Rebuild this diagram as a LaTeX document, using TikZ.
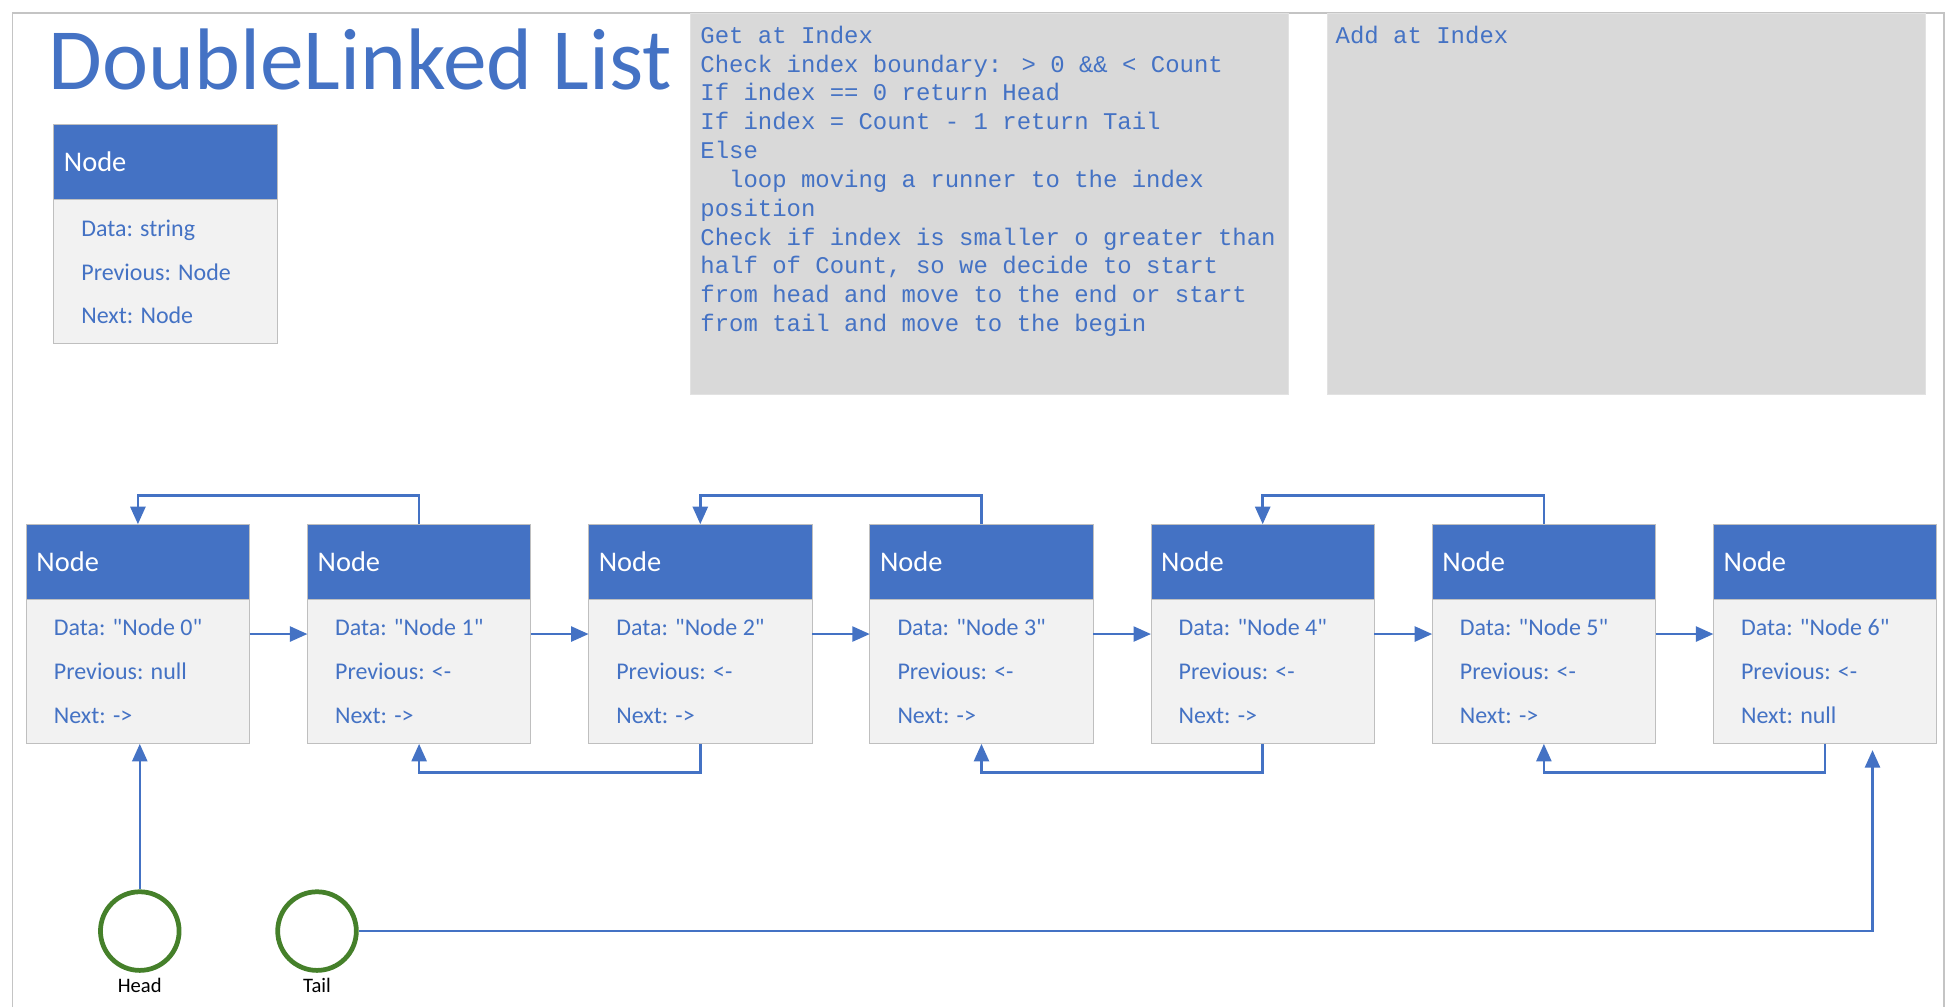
\documentclass[tikz,border=0pt]{standalone}
\usepackage{fontspec}
\setmainfont{Carlito}[Ligatures=TeXOff]
\newfontfamily\codefont{Liberation Mono}[Ligatures=TeXOff]
\usetikzlibrary{arrows.meta,calc}
\definecolor{hdrblue}{HTML}{4472C4}
\definecolor{bodygray}{HTML}{F2F2F2}
\definecolor{edgegray}{HTML}{BFBFBF}
\definecolor{codegray}{HTML}{D9D9D9}
\definecolor{codeedge}{HTML}{E2E2E2}
\definecolor{framegray}{HTML}{C4C4C4}
\definecolor{ringgreen}{HTML}{45802A}
\newcommand\dllbox[7]{%
  \node[hdrbox] (#1h) at (#2,#3) {};
  \node[hdrtext] (#1t) at ($(#1h.west)+(8,7.5)$) {Node};
  \node[bodybox, minimum height=#4] (#1) at (#2,#3+60) {};
  \node[bodytext] (#1a) at ($(#1.north west)+(22,29.5)$) {#5};
  \node[bodytext] (#1b) at ($(#1.north west)+(22,64.5)$) {#6};
  \node[bodytext] (#1c) at ($(#1.north west)+(22,99.5)$) {#7};
}
\begin{document}
\begin{tikzpicture}[x=1pt,y=-1pt,
  hdrbox/.style={draw=edgegray, fill=hdrblue, line width=0.8pt, minimum width=179pt, minimum height=60pt, anchor=north west, inner sep=0pt, outer sep=0pt},
  bodybox/.style={draw=edgegray, fill=bodygray, line width=0.8pt, minimum width=179pt, anchor=north west, inner sep=0pt, outer sep=0pt},
  hdrtext/.style={text=white, font=\fontsize{22.8}{27}\selectfont, inner sep=0pt, anchor=base west},
  bodytext/.style={text=hdrblue, font=\fontsize{19.2}{23}\selectfont, inner sep=0pt, anchor=base west},
  codebox/.style={fill=codegray, draw=codeedge, line width=0.6pt, minimum width=479pt, minimum height=305pt, anchor=north west, inner sep=0pt},
  codetext/.style={text=hdrblue, font=\codefont\fontsize{19.2}{23}\selectfont, inner sep=0pt, anchor=base west},
  conn/.style={draw=hdrblue, line width=2pt, -{Triangle[length=14pt,width=12pt]}},
  ring/.style={circle, draw=ringgreen, line width=3.8pt, minimum size=63pt, inner sep=0pt},
  lbl/.style={font=\fontsize{16.5}{20}\selectfont, text=black, inner sep=0pt, anchor=base},
  titletext/.style={text=hdrblue, font=\fontsize{70}{80}\selectfont, inner sep=0pt, anchor=base west}
]
\useasboundingbox (0,0) rectangle (1568,807);
\fill[white] (0,0) rectangle (1568,807);
% outer frame
\draw[framegray, line width=1pt] (10,807) -- (10,10.5) -- (1557.5,10.5) -- (1557.5,807);

% title
\node[titletext] (title) at (39,72) {DoubleLinked List};

% legend node
\dllbox{leg}{43}{100}{115}{Data: string}{Previous: Node}{Next: Node}

% code boxes
\node[codebox] (getbox) at (553,10.5) {};
\node[codebox] (addbox) at (1063,10.5) {};
\node[codetext] (g0) at (561,34.7) {Get at Index};
\node[codetext] (g1) at (561,57.8) {Check index boundary: > 0 \&\& < Count};
\node[codetext] (g2) at (561,80.9) {If index == 0 return Head};
\node[codetext] (g3) at (561,104.0) {If index = Count - 1 return Tail};
\node[codetext] (g4) at (561,127.1) {Else};
\node[codetext] (g5) at (561,150.2) {\hspace*{23.04pt}loop moving a runner to the index};
\node[codetext] (g6) at (561,173.3) {position};
\node[codetext] (g7) at (561,196.4) {Check if index is smaller o greater than};
\node[codetext] (g8) at (561,219.5) {half of Count, so we decide to start};
\node[codetext] (g9) at (561,242.6) {from head and move to the end or start};
\node[codetext] (g10) at (561,265.7) {from tail and move to the begin};
\node[codetext] (a0) at (1070,34.7) {Add at Index};

% list nodes
\dllbox{n0}{21}{420}{116}{Data: "Node 0"}{Previous: null}{Next: ->}
\dllbox{n1}{246.3}{420}{116}{Data: "Node 1"}{Previous: <-}{Next: ->}
\dllbox{n2}{471.6}{420}{116}{Data: "Node 2"}{Previous: <-}{Next: ->}
\dllbox{n3}{696.9}{420}{116}{Data: "Node 3"}{Previous: <-}{Next: ->}
\dllbox{n4}{922.2}{420}{116}{Data: "Node 4"}{Previous: <-}{Next: ->}
\dllbox{n5}{1147.5}{420}{116}{Data: "Node 5"}{Previous: <-}{Next: ->}
\dllbox{n6}{1372.8}{420}{116}{Data: "Node 6"}{Previous: <-}{Next: null}

% forward links
\foreach \a/\b in {n0/n1,n1/n2,n2/n3,n3/n4,n4/n5,n5/n6}{
  \draw[conn] ([yshift=30pt]\a.east) -- ([yshift=30pt]\b.west);
}
% top back links
\foreach \a/\b in {n1/n0,n3/n2,n5/n4}{
  \draw[conn] (\a h.north) -- ++(0,-23) -| (\b h.north);
}
% bottom back links
\foreach \a/\b in {n2/n1,n4/n3,n6/n5}{
  \draw[conn] (\a.south) -- ++(0,23) -| (\b.south);
}

% head and tail
\node[ring] (head) at (112,746) {};
\node[ring] (tail) at (254,746) {};
\node[lbl] (headlbl) at (112,795) {Head};
\node[lbl] (taillbl) at (254,795) {Tail};
\coordinate (tailtip) at ($(n6.south)+(38,5)$);
\draw[conn] (head.north) -- (head.north |- n0.south);
\draw[conn] (tail.east) -| (tailtip);
\end{tikzpicture}
\end{document}
